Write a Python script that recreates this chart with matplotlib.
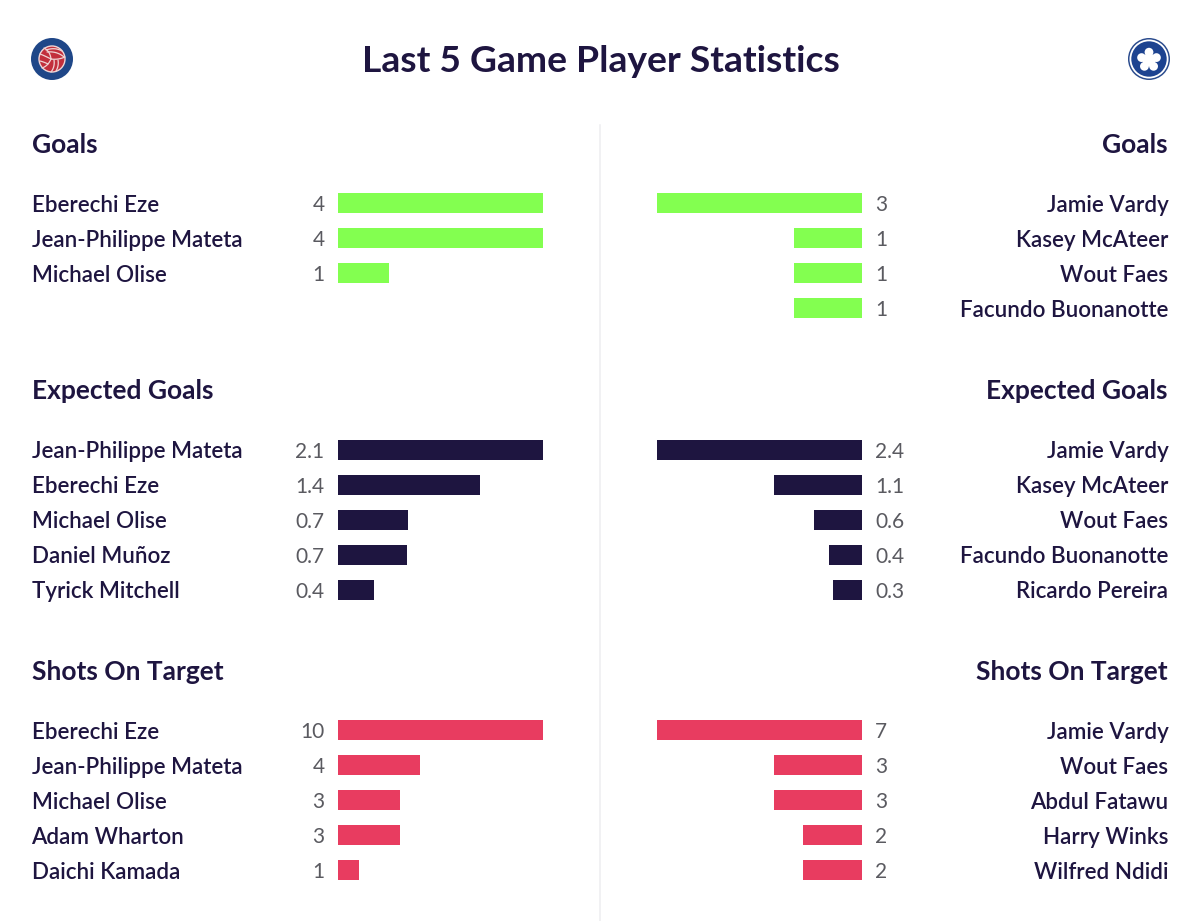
import matplotlib
matplotlib.use("Agg")
import matplotlib.pyplot as plt
from matplotlib.patches import Circle, Polygon
import numpy as np

W, H = 1200, 921
NAVY = "#1E1540"
GREEN = "#83FF50"
RED = "#E83C60"
GREY = "#5A5A60"

title = "Last 5 Game Player Statistics"

goals_left_names = ["Eberechi Eze", "Jean-Philippe Mateta", "Michael Olise"]
goals_left_values = [4, 4, 1]
goals_left_labels = ["4", "4", "1"]
goals_right_names = ["Jamie Vardy", "Kasey McAteer", "Wout Faes", "Facundo Buonanotte"]
goals_right_values = [3, 1, 1, 1]
goals_right_labels = ["3", "1", "1", "1"]

xg_left_names = ["Jean-Philippe Mateta", "Eberechi Eze", "Michael Olise", "Daniel Muñoz", "Tyrick Mitchell"]
xg_left_values = [2.1, 1.45, 0.72, 0.71, 0.37]
xg_left_labels = ["2.1", "1.4", "0.7", "0.7", "0.4"]
xg_right_names = ["Jamie Vardy", "Kasey McAteer", "Wout Faes", "Facundo Buonanotte", "Ricardo Pereira"]
xg_right_values = [2.4, 1.03, 0.56, 0.39, 0.34]
xg_right_labels = ["2.4", "1.1", "0.6", "0.4", "0.3"]

sot_left_names = ["Eberechi Eze", "Jean-Philippe Mateta", "Michael Olise", "Adam Wharton", "Daichi Kamada"]
sot_left_values = [10, 4, 3, 3, 1]
sot_left_labels = ["10", "4", "3", "3", "1"]
sot_right_names = ["Jamie Vardy", "Wout Faes", "Abdul Fatawu", "Harry Winks", "Wilfred Ndidi"]
sot_right_values = [7, 3, 3, 2, 2]
sot_right_labels = ["7", "3", "3", "2", "2"]

plt.rcParams["font.family"] = ["Lato", "DejaVu Sans"]
fig = plt.figure(figsize=(W / 100, H / 100), dpi=100, facecolor="white")
px = 72 / 100
PITCH = 35.1
BAR_H = 20 / PITCH

bg = fig.add_axes([0, 0, 1, 1])
bg.set_xlim(0, W)
bg.set_ylim(H, 0)
bg.axis("off")
bg.plot([600, 600], [125, H], color="#EDEDF0", lw=1.1)
bg.text(601, 61, title, ha="center", va="center", fontsize=26.8, fontweight="bold", color=NAVY)


def curve(p0, c, p1, lw=0.9):
    t = np.linspace(0, 1, 20)[:, None]
    p0, c, p1 = map(np.array, (p0, c, p1))
    a = (1 - t) ** 2 * p0 + 2 * t * (1 - t) * c + t ** 2 * p1
    bg.plot(a[:, 0], a[:, 1], color="#F0D5D5", lw=lw, solid_capstyle="round")


# Club badges
bg.add_patch(Circle((52, 59), 21, color="#1F4788", lw=0))
bg.add_patch(Circle((52, 59), 13, facecolor="#C22F3C", edgecolor="#F0D5D5", lw=1))
curve((51, 59), (43, 55), (40, 54))
curve((51, 59), (50, 51), (44, 48))
curve((51, 59), (58, 60), (65, 57))
curve((51, 59), (48, 66), (42, 68))
curve((46, 50), (55, 47), (62, 51))
curve((47, 52), (57, 51), (64, 57))
curve((58, 60), (59, 66), (56, 71))
curve((54, 60), (55, 67), (51, 72))
curve((48, 64), (44, 62), (40, 61))

bg.add_patch(Circle((1149, 59), 21, color="#2A4B8D", lw=0))
bg.add_patch(Circle((1149, 59), 18.6, facecolor="#1D4390", edgecolor="white", lw=1.3))
ang = np.deg2rad(np.arange(5) * 72 - 90)
for a in ang:
    bg.add_patch(Circle((1149 + 7.8 * np.cos(a), 60 + 7.8 * np.sin(a)), 4.4, color="white", lw=0))
bg.add_patch(Polygon(np.c_[1149 + 8 * np.cos(ang), 60 + 8 * np.sin(ang)], color="white", lw=0))


def panel(side, y0, names, values, labels, color):
    n = len(names)
    left = 338 if side == "L" else 657
    bottom = y0 + (n - 0.5) * PITCH
    ax = fig.add_axes([left / W, 1 - bottom / H, 205 / W, n * PITCH / H])
    y = np.arange(n)
    ax.barh(y, values, height=BAR_H, color=color, lw=0)
    ax.set_ylim(n - 0.5, -0.5)
    ax.set_xlim(*((0, max(values)) if side == "L" else (max(values), 0)))
    ax.axis("off")
    tr = ax.get_yaxis_transform()
    for i, (nm, lb) in enumerate(zip(names, labels)):
        if side == "L":
            name_x, name_ha, val_x, val_ha = -306.5, "left", -13.5, "right"
        else:
            name_x, name_ha, val_x, val_ha = 511.5, "right", 218, "left"
        ax.annotate(nm, (0, i), xycoords=tr, xytext=(name_x * px, 0), textcoords="offset points",
                    ha=name_ha, va="center_baseline", fontsize=16.1, fontweight="semibold", color=NAVY)
        ax.annotate(lb, (0, i), xycoords=tr, xytext=(val_x * px, 0), textcoords="offset points",
                    ha=val_ha, va="center_baseline", fontsize=15, color=GREY)


for head, yh, y0, lt, rt, col in [
    ("Goals", 145, 203, (goals_left_names, goals_left_values, goals_left_labels),
     (goals_right_names, goals_right_values, goals_right_labels), GREEN),
    ("Expected Goals", 391, 449.5, (xg_left_names, xg_left_values, xg_left_labels),
     (xg_right_names, xg_right_values, xg_right_labels), NAVY),
    ("Shots On Target", 672, 730, (sot_left_names, sot_left_values, sot_left_labels),
     (sot_right_names, sot_right_values, sot_right_labels), RED),
]:
    bg.text(32, yh, head, ha="left", va="center", fontsize=19, fontweight="bold", color=NAVY)
    bg.text(1168, yh, head, ha="right", va="center", fontsize=19, fontweight="bold", color=NAVY)
    panel("L", y0, *lt, col)
    panel("R", y0, *rt, col)

fig.savefig("out.png", dpi=100, facecolor="white")
